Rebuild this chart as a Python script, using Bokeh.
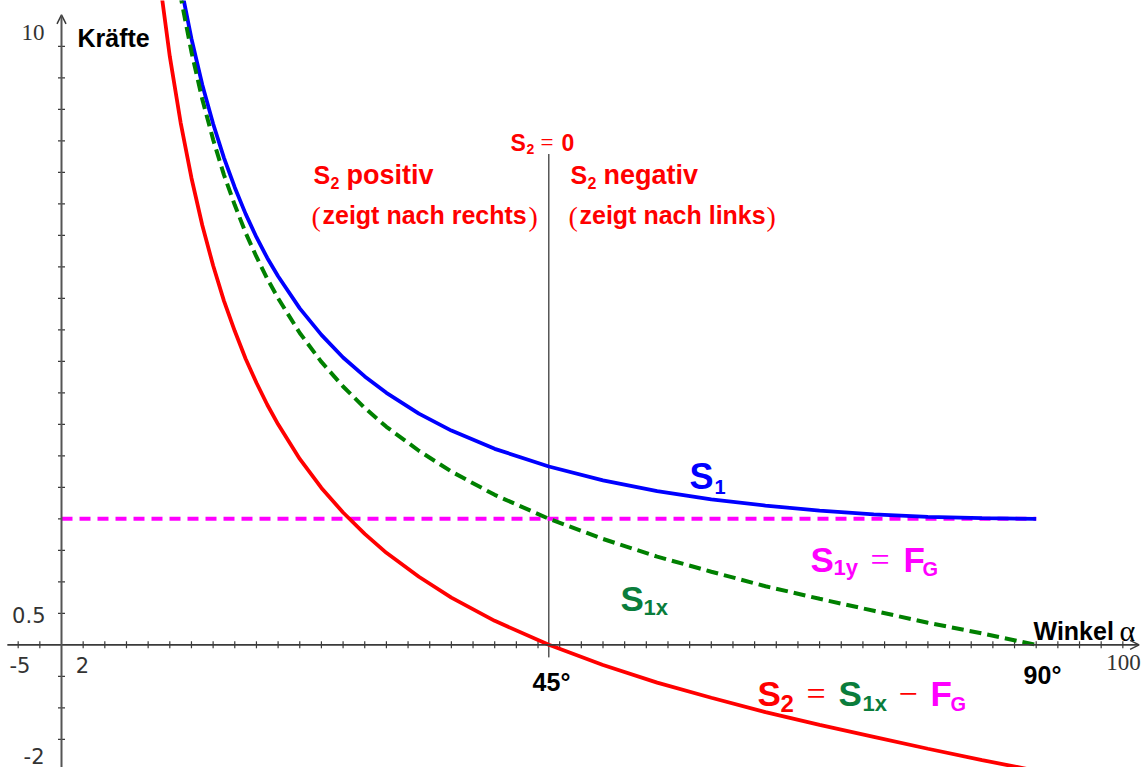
from math import pi

from bokeh.core.properties import value
from bokeh.embed import file_html
from bokeh.models import Arrow, OpenHead, Range1d
from bokeh.plotting import figure
from bokeh.resources import INLINE

# Angle alpha in degrees and the three forces read along it
alpha = [9, 10, 11, 12, 13, 14, 15, 16, 17, 18, 19, 20, 22, 24, 26, 28, 30,
         33, 36, 40, 45, 50, 55, 60, 65, 70, 75, 80, 85, 90]
s1 = [12.78, 11.52, 10.48, 9.62, 8.89, 8.27, 7.73, 7.26, 6.84, 6.47, 6.14,
      5.85, 5.34, 4.92, 4.56, 4.26, 4.00, 3.67, 3.40, 3.11, 2.83, 2.61, 2.44,
      2.31, 2.21, 2.13, 2.07, 2.03, 2.01, 2.00]
s1x = [12.63, 11.34, 10.29, 9.41, 8.66, 8.02, 7.46, 6.98, 6.54, 6.16, 5.81,
       5.50, 4.95, 4.49, 4.10, 3.76, 3.46, 3.08, 2.75, 2.38, 2.00, 1.68, 1.40,
       1.16, 0.93, 0.73, 0.54, 0.35, 0.18, 0.00]
s2 = [10.63, 9.34, 8.29, 7.41, 6.66, 6.02, 5.46, 4.98, 4.54, 4.16, 3.81,
      3.50, 2.95, 2.49, 2.10, 1.76, 1.46, 1.08, 0.75, 0.38, 0.00, -0.32,
      -0.60, -0.84, -1.07, -1.27, -1.46, -1.65, -1.83, -2.00]

# Weight force F_G (constant) over the angle span
fg_alpha = [0, 90]
fg_value = [2.0, 2.0]

# Angle where S2 changes sign
switch_alpha = 45
switch_span = [-0.2, 7.79]

# Axis extents and tick spacing
x_axis_span = [-5, 99.5]
y_axis_span = [-1.95, 10.0]
x_ticks = [v for v in range(-4, 99, 2) if v != 0]
y_ticks = [v / 2 for v in range(-3, 20) if v != 0]

# Pixel geometry of the drawing area (origin at pixel 61 / 644.3)
OX, OY = 61.0, 644.3
KX, KY = 10.83, 63.0
W, H = 1147, 767


def dx(px):
    return (px - OX) / KX


def dy(py):
    return (OY - py) / KY


p = figure(width=W, height=H, output_backend="svg", toolbar_location=None,
           x_range=Range1d(dx(0), dx(W)), y_range=Range1d(dy(H), dy(0)),
           min_border=0, x_axis_type=None, y_axis_type=None)
p.grid.visible = False
p.outline_line_color = None
p.background_fill_color = "white"
p.border_fill_color = "white"

AXIS = "#3a3a3a"

# Coordinate axes through the origin with arrow heads
p.add_layout(Arrow(end=OpenHead(size=9, line_color=AXIS, line_width=1.5),
                   x_start=x_axis_span[0], y_start=0, x_end=x_axis_span[1], y_end=0,
                   line_color=AXIS, line_width=1.8))
p.add_layout(Arrow(end=OpenHead(size=9, line_color=AXIS, line_width=1.5),
                   x_start=0, y_start=y_axis_span[0], x_end=0, y_end=y_axis_span[1],
                   line_color="#555555", line_width=2))
p.scatter(x=x_ticks, y=[0] * len(x_ticks), marker="dash", size=7, angle=pi / 2,
          line_color=AXIS, line_width=1.2)
p.scatter(x=[0] * len(y_ticks), y=y_ticks, marker="dash", size=7,
          line_color=AXIS, line_width=1.2)

# Boundary line at 45 degrees
p.line(x=[switch_alpha, switch_alpha], y=switch_span, line_color="black", line_width=1)

# Force curves
p.line(x=fg_alpha, y=fg_value, line_color="#ff00ff", line_width=4, line_dash="11 7")
p.line(x=alpha, y=s1, line_color="#0000ff", line_width=3.8)
p.line(x=alpha, y=s1x, line_color="#008000", line_width=4, line_dash="12 6")
p.line(x=alpha, y=s2, line_color="#ff0000", line_width=3.8)


def label(px, py, txt, size, color="black", bold=True, font="Liberation Sans",
          align="left", baseline="alphabetic"):
    p.text(x=[dx(px)], y=[dy(py)], text=[txt], text_font=value(font),
           text_font_size=f"{size}px", text_font_style="bold" if bold else "normal",
           text_color=color, text_align=align, text_baseline=baseline)


# Axis range labels
GRAY = "#333333"
label(44, 32, "10", 23, GRAY, bold=False, font="Liberation Serif", align="right", baseline="middle")
label(45, 614, "0.5", 21, GRAY, bold=False, font="DejaVu Sans", align="right", baseline="middle")
label(44, 755, "-2", 21, GRAY, bold=False, font="DejaVu Sans", align="right", baseline="middle")
label(9, 664, "-5", 21, GRAY, bold=False, font="DejaVu Sans", baseline="middle")
label(82, 664, "2", 21, GRAY, bold=False, font="DejaVu Sans", align="center", baseline="middle")
label(1123, 662, "100", 23, GRAY, bold=False, font="Liberation Serif", align="center", baseline="middle")

# Axis titles and angle marks
label(77, 37, "Kräfte", 25)
label(1033, 630, "Winkel", 25)
label(1119, 630, "α", 30, bold=False, font="Liberation Serif")
label(551, 681, "45°", 25, align="center")
label(1042, 674, "90°", 25, align="center")

RED = "#ff0000"
BLUE = "#0000ff"
MAG = "#ff00ff"
GRN = "#0a7d3c"

# S2 = 0
label(510, 142, "S", 23, RED)
label(526, 148, "2", 14, RED)
label(540, 142, "=", 23, RED, bold=False, font="Liberation Serif")
label(561, 142, "0", 23, RED)

# Left region
label(313, 174, "S", 25, RED)
label(330, 182, "2", 16, RED)
label(346, 174, "positiv", 27, RED)
label(311, 216, "(", 28, RED, bold=False, font="Liberation Serif")
label(322, 214, "zeigt nach rechts", 25, RED)
label(528, 216, ")", 28, RED, bold=False, font="Liberation Serif")

# Right region
label(570, 174, "S", 25, RED)
label(587, 182, "2", 16, RED)
label(603, 174, "negativ", 27, RED)
label(568, 216, "(", 28, RED, bold=False, font="Liberation Serif")
label(579, 214, "zeigt nach links", 25, RED)
label(766, 216, ")", 28, RED, bold=False, font="Liberation Serif")

# Curve names
label(689, 476, "S", 36, BLUE)
label(714, 486, "1", 20, BLUE)

label(810, 559, "S", 35, MAG)
label(833, 567, "1y", 22, MAG)
label(870, 559, "=", 34, MAG, bold=False, font="Liberation Serif")
label(903, 559, "F", 35, MAG)
label(922, 568, "G", 20, MAG)

label(620, 598, "S", 35, GRN)
label(643, 607, "1x", 22, GRN)

label(757, 693, "S", 35, RED)
label(780, 703, "2", 24, RED)
label(806, 693, "=", 34, RED, bold=False, font="Liberation Serif")
label(838, 693, "S", 35, GRN)
label(862, 703, "1x", 22, GRN)
label(898, 693, "−", 34, RED, bold=False, font="Liberation Serif")
label(930, 693, "F", 35, MAG)
label(950, 703, "G", 20, MAG)

open("out.html", "w").write(file_html(p, INLINE))
